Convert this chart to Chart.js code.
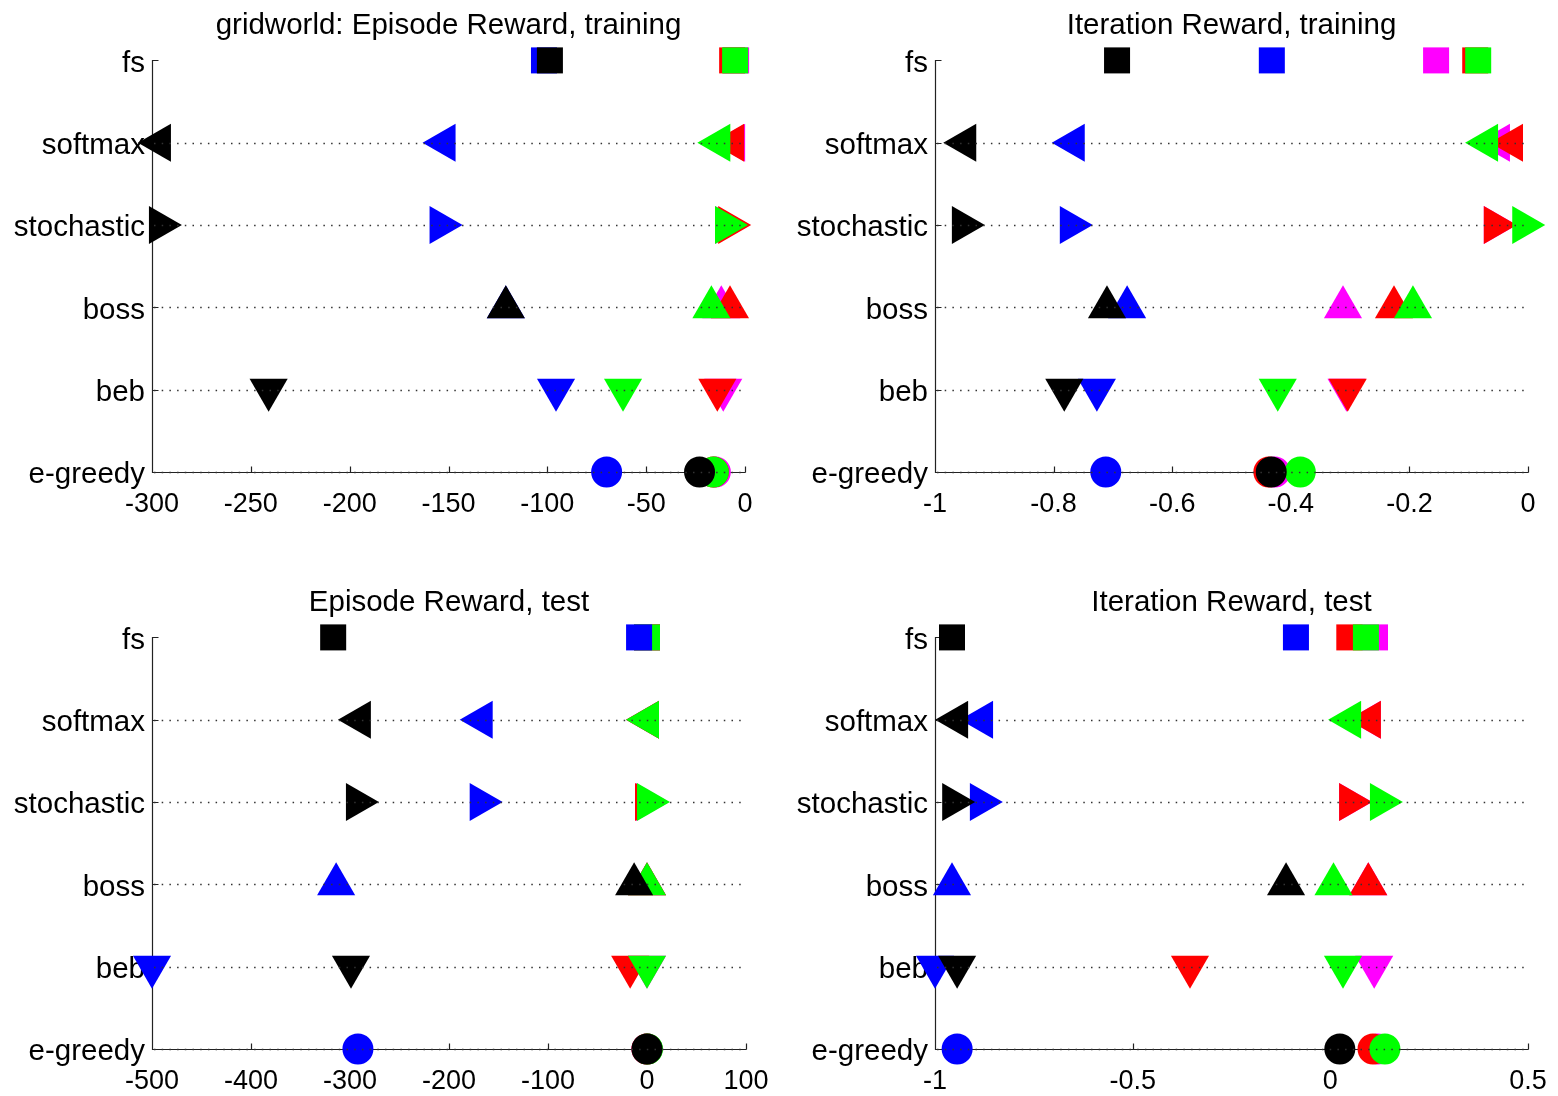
<!DOCTYPE html>
<html>
<head>
<meta charset="utf-8">
<script src="https://cdn.jsdelivr.net/npm/chart.js@4.4.1/dist/chart.umd.min.js"></script>
<style>
  html, body { margin: 0; padding: 0; background: #fff; overflow: hidden; }
  canvas { position: absolute; }
</style>
</head>
<body>
<canvas id="ep-train" width="779" height="519" style="left:0;top:0"></canvas>
<canvas id="it-train" width="779" height="519" style="left:779px;top:0"></canvas>
<canvas id="ep-test" width="779" height="519" style="left:0;top:577px"></canvas>
<canvas id="it-test" width="779" height="519" style="left:779px;top:577px"></canvas>
<script>
// rows, top to bottom
const rows = ['fs', 'softmax', 'stochastic', 'boss', 'beb', 'e-greedy']

// gridworld: Episode Reward, training
const epTrainTicks = [-300, -250, -200, -150, -100, -50, 0]
const epTrainBlack = [-98.7, -296, -296, -121, -241, -23]
const epTrainBlue = [-101.7, -152, -154, -121, -95.6, -70]
const epTrainGreen = [-5, -13, -9.6, -17, -61.7, -16]
const epTrainRed = [-6.5, -6, -8, -7.6, -14, -16]
const epTrainMagenta = [-4.5, -5.5, -9.5, -12, -11, -15]

// Iteration Reward, training
const itTrainTicks = [-1, -0.8, -0.6, -0.4, -0.2, 0]
const itTrainBlack = [-0.693, -0.949, -0.953, -0.710, -0.782, -0.433]
const itTrainBlue = [-0.432, -0.766, -0.771, -0.676, -0.727, -0.712]
const itTrainGreen = [-0.084, -0.069, -0.008, -0.194, -0.422, -0.384]
const itTrainRed = [-0.089, -0.027, -0.056, -0.226, -0.304, -0.437]
const itTrainMagenta = [-0.155, -0.049, -0.056, -0.312, -0.306, -0.427]

// Episode Reward, test
const epTestTicks = [-500, -400, -300, -200, -100, 0, 100]
const epTestBlack = [-317, -290, -293, -13, -299, 0]
const epTestBlue = [-8, -167, -168, -314, -500, -292]
const epTestGreen = [0, 1, 1, 0, 0, 0.5]
const epTestRed = [0, 1, -1, 0, -17, 0]
const epTestMagenta = [0, 1, 0, 0, 0, 0]

// Iteration Reward, test
const itTestTicks = [-1, -0.5, 0, 0.5]
const itTestBlack = [-0.957, -0.944, -0.954, -0.112, -0.944, 0.024]
const itTestBlue = [-0.087, -0.881, -0.884, -0.957, -1.0, -0.944]
const itTestGreen = [0.090, 0.05, 0.128, 0.008, 0.032, 0.138]
const itTestRed = [0.048, 0.1, 0.05, 0.096, -0.355, 0.108]
const itTestMagenta = [0.113, 0.1, 0.05, 0.096, 0.111, 0.12]

const FONT = 'Liberation Sans, Arial, Helvetica, sans-serif'
// marker per row: square, left tri, right tri, up tri, down tri, circle
const rowShape = ['rect', 'triangle', 'triangle', 'triangle', 'triangle', 'circle']
const rowRotation = [0, 270, 90, 0, 180, 0]
const rowRadius = [18.4, 22, 22, 22, 22, 15.5]

const axesPlugin = {
  id: 'axesPlugin',
  beforeDatasetsDraw(chart) {
    const { ctx, chartArea: a, scales: { x, y } } = chart
    const L = Math.round(a.left) + 0.5
    const B = Math.round(a.bottom) + 0.5
    ctx.save()
    ctx.strokeStyle = '#222'
    ctx.lineWidth = 1.2
    ctx.beginPath()
    ctx.moveTo(L, Math.round(a.top))
    ctx.lineTo(L, B)
    ctx.lineTo(Math.round(a.right) + 0.5, B)
    x.ticks.forEach(t => {
      const px = Math.round(x.getPixelForValue(t.value)) + 0.5
      ctx.moveTo(px, B); ctx.lineTo(px, B - 6)
    })
    y.ticks.forEach(t => {
      const py = Math.round(y.getPixelForValue(t.value)) + 0.5
      ctx.moveTo(L, py); ctx.lineTo(L + 6, py)
    })
    ctx.stroke()
    ctx.restore()
  },
  afterDatasetsDraw(chart) {
    const { ctx, chartArea: a, scales: { y } } = chart
    ctx.save()
    ctx.strokeStyle = '#333'
    ctx.lineWidth = 1.3
    ctx.setLineDash([1.5, 6.2])
    ctx.beginPath()
    for (let r = 0; r <= 4; r++) {
      const py = Math.round(y.getPixelForValue(r)) + 0.5
      ctx.moveTo(a.left + 2, py); ctx.lineTo(a.right, py)
    }
    ctx.stroke()
    ctx.restore()
  }
}

function makeChart(id, title, xMin, xMax, xTicks, yWidth, padRight, black, blue, green, red, magenta) {
  const series = [
    { name: 'black', color: '#000000', values: black, order: 0 },
    { name: 'blue', color: '#0000ff', values: blue, order: 1 },
    { name: 'green', color: '#00ff00', values: green, order: 2 },
    { name: 'red', color: '#ff0000', values: red, order: 3 },
    { name: 'magenta', color: '#ff00ff', values: magenta, order: 4 },
  ]
  return new Chart(document.getElementById(id), {
    type: 'scatter',
    data: {
      datasets: series.map(s => ({
        label: s.name,
        data: s.values.map((v, i) => ({ x: v, y: rows.length - 1 - i })),
        backgroundColor: s.color,
        borderColor: s.color,
        borderWidth: 0,
        order: s.order,
        pointStyle: rowShape,
        rotation: rowRotation,
        pointRotation: rowRotation,
        pointRadius: rowRadius,
        pointHoverRadius: rowRadius,
        clip: false,
      }))
    },
    options: {
      responsive: false,
      animation: false,
      devicePixelRatio: 1,
      events: [],
      layout: { padding: { left: 0, right: padRight, top: 0, bottom: 0 } },
      plugins: {
        legend: { display: false },
        tooltip: { enabled: false },
        title: {
          display: true, text: title, color: '#000', fullSize: false,
          font: { family: FONT, size: 29.5, weight: 'normal' },
          padding: { top: 8, bottom: 17 }
        }
      },
      scales: {
        x: {
          type: 'linear', min: xMin, max: xMax,
          afterBuildTicks: s => { s.ticks = xTicks.map(v => ({ value: v })) },
          afterFit: s => { s.height = 47; s.paddingLeft = 0; s.paddingRight = 0 },
          grid: { display: false, drawTicks: false },
          border: { display: false },
          ticks: { color: '#000', font: { family: FONT, size: 27 }, padding: 16, maxRotation: 0, autoSkip: false, callback: v => String(v) }
        },
        y: {
          type: 'linear', min: 0, max: rows.length - 1,
          afterBuildTicks: s => { s.ticks = rows.map((r, i) => ({ value: i })) },
          afterFit: s => { s.width = yWidth },
          grid: { display: false, drawTicks: false },
          border: { display: false },
          ticks: { color: '#000', font: { family: FONT, size: 29.5 }, padding: 7, labelOffset: 3, callback: v => rows[rows.length - 1 - v] }
        }
      }
    },
    plugins: [axesPlugin]
  })
}

makeChart('ep-train', 'gridworld: Episode Reward, training', -300, 0, epTrainTicks, 152, 34,
  epTrainBlack, epTrainBlue, epTrainGreen, epTrainRed, epTrainMagenta)
makeChart('it-train', 'Iteration Reward, training', -1, 0, itTrainTicks, 156, 30,
  itTrainBlack, itTrainBlue, itTrainGreen, itTrainRed, itTrainMagenta)
makeChart('ep-test', 'Episode Reward, test', -500, 100, epTestTicks, 152, 33,
  epTestBlack, epTestBlue, epTestGreen, epTestRed, epTestMagenta)
makeChart('it-test', 'Iteration Reward, test', -1, 0.5, itTestTicks, 156, 30,
  itTestBlack, itTestBlue, itTestGreen, itTestRed, itTestMagenta)
</script>
</body>
</html>
